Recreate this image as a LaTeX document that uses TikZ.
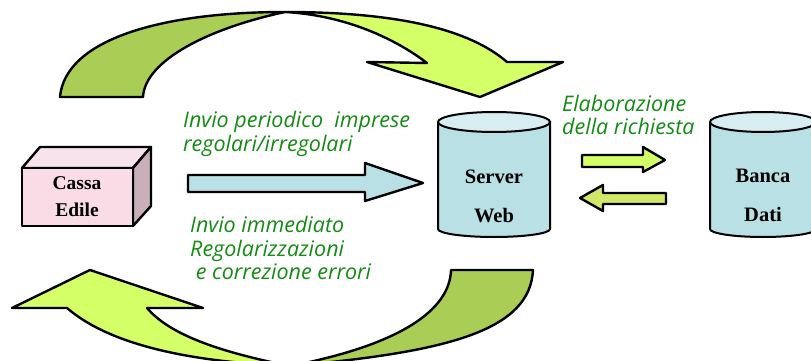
\documentclass[tikz,border=0pt]{standalone}
\usepackage{fontspec}
\setmainfont{Liberation Serif}
\newfontfamily\notefont{Open Sans}

\definecolor{verdescuro}{RGB}{170,205,85}
\definecolor{verdechiaro}{RGB}{212,255,102}
\definecolor{verdefreccia}{RGB}{210,232,104}
\definecolor{azzurro}{RGB}{185,224,228}
\definecolor{azzurrotop}{RGB}{214,238,241}
\definecolor{rosa}{RGB}{249,220,230}
\definecolor{rosatop}{RGB}{248,227,236}
\definecolor{rosalato}{RGB}{200,175,185}
\definecolor{testoverde}{RGB}{20,140,20}

\tikzset{
  bordo/.style={draw=black,line width=2.4pt,line join=round},
  nota/.style={text=testoverde,anchor=west,align=left,inner sep=0pt,
    font=\notefont\itshape\fontsize{21.5}{24.5}\selectfont},
  etichetta/.style={align=center,inner sep=0pt,
    font=\bfseries\fontsize{20.5}{39}\selectfont}
}

\begin{document}
\begin{tikzpicture}[x=1pt,y=-1pt]
  \useasboundingbox (0,0) rectangle (811,361);
  \fill[white] (0,0) rectangle (811,361);
  \clip (0,0) rectangle (811,361);

  %freccia superiore
	\filldraw[bordo,fill=verdescuro] (60,97) .. controls (65,40) and (160,12) .. (285,12)
		.. controls (210,28) and (145,60) .. (143,97) -- cycle;
	\filldraw[bordo,fill=verdechiaro] (285,12) .. controls (400,12) and (470,30) .. (507,62)
		-- (563,62) -- (480,97) -- (367,62) -- (427,63)
		.. controls (390,35) and (340,15) .. cycle;

  %freccia inferiore
	\filldraw[bordo,fill=verdechiaro] (90,270) -- (203,308) -- (147,308)
		.. controls (170,335) and (220,352) .. (290,366)
		.. controls (190,362) and (110,345) .. (67,308) -- (12,308) -- cycle;
	\filldraw[bordo,fill=verdescuro] (290,366) .. controls (400,345) and (450,310) .. (451,270)
		-- (533,270) .. controls (530,330) and (450,352) .. cycle;

  %Cassa Edile
	\filldraw[bordo,fill=rosatop] (22,168) -- (40,147) -- (151,147) -- (133,168) -- cycle;
	\filldraw[bordo,fill=rosalato] (133,168) -- (151,147) -- (151,206) -- (133,226) -- cycle;
	\filldraw[bordo,fill=rosa] (22,168) rectangle (133,226);
	\node[etichetta,font=\bfseries\fontsize{19.5}{27}\selectfont] (cassa) at (77,197) {Cassa\\Edile};

  %Server Web
	\filldraw[line width=2pt,fill=azzurro] (438,122) -- (438,229)
		arc[start angle=180,end angle=0,x radius=56,y radius=8] -- (550,122) -- cycle;
	\filldraw[line width=2pt,fill=azzurrotop] (494,122) ellipse[x radius=56,y radius=10];
	\node[etichetta] (server) at (494,196) {Server\\Web};

  %Banca Dati
	\filldraw[line width=2pt,fill=azzurro] (710,122) -- (710,229)
		arc[start angle=180,end angle=0,x radius=53,y radius=8] -- (816,122) -- cycle;
	\filldraw[line width=2pt,fill=azzurrotop] (763,122) ellipse[x radius=53,y radius=10];
	\node[etichetta] (banca) at (763,195) {Banca\\Dati};

  %freccia invio
	\filldraw[bordo,fill=azzurro] (188,175) -- (365,175) -- (365,163) -- (423,183)
		-- (365,201) -- (365,192) -- (188,192) -- cycle;

  %frecce server-banca
	\filldraw[bordo,fill=verdechiaro] (582,155) -- (643,155) -- (643,147) -- (665,160)
		-- (643,172) -- (643,167) -- (582,167) -- cycle;
	\filldraw[bordo,fill=verdefreccia] (666,193) -- (603,193) -- (603,185) -- (580,198)
		-- (603,211) -- (603,204) -- (666,204) -- cycle;

  %testi
	\node[nota] (periodico) at (183,134) {Invio periodico\ \ imprese\\regolari/irregolari};
	\node[nota,font=\notefont\itshape\fontsize{21.5}{23.5}\selectfont] (immediato) at (190,248)
		{Invio immediato\\Regolarizzazioni\\\ e correzione errori};
	\node[nota,font=\notefont\itshape\fontsize{21.5}{23}\selectfont] (elaborazione) at (562,115)
		{Elaborazione\\della richiesta};
\end{tikzpicture}
\end{document}
